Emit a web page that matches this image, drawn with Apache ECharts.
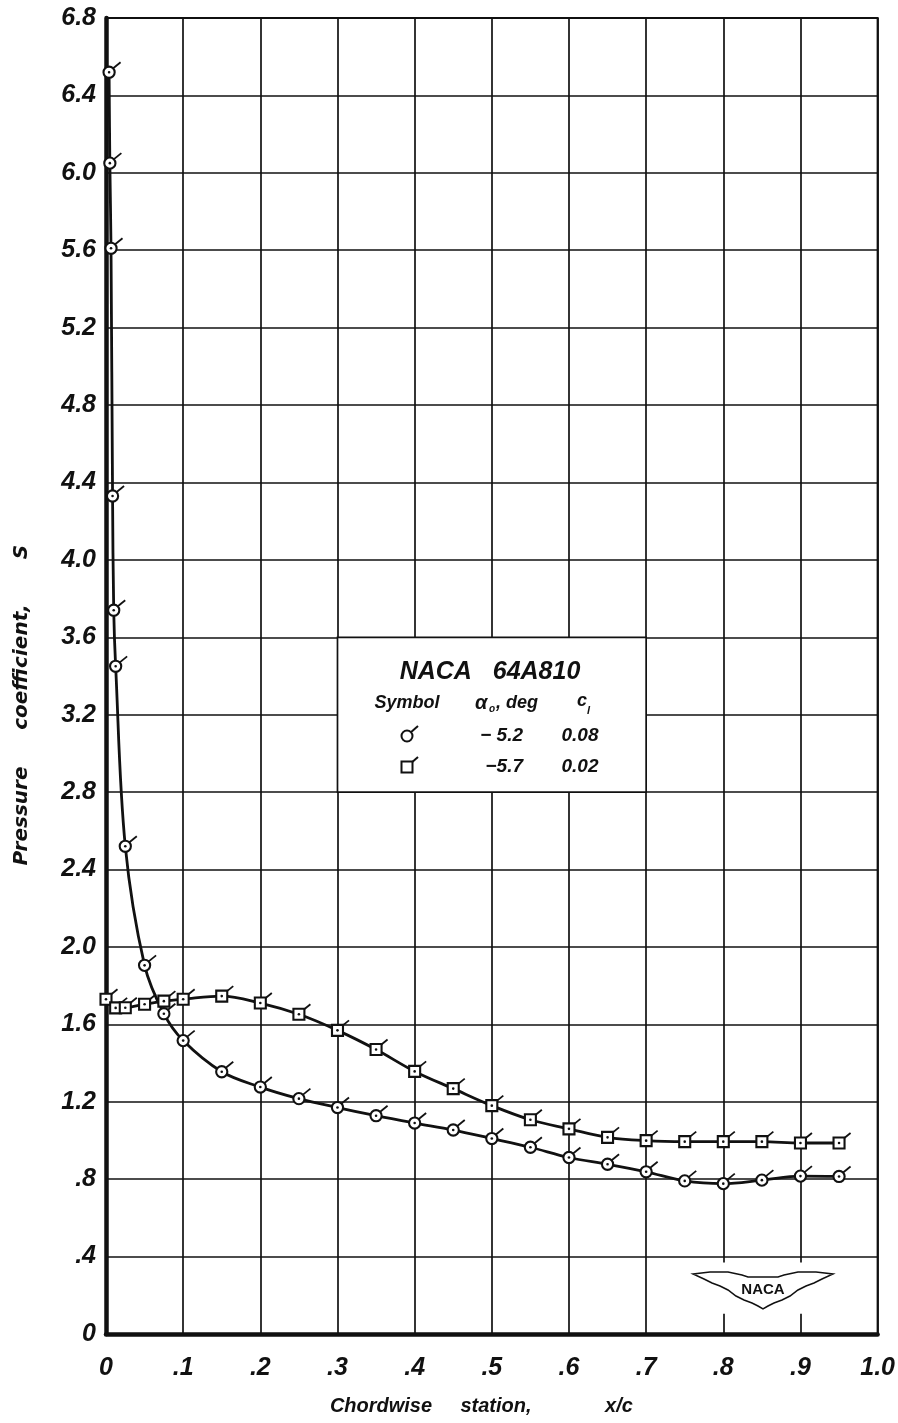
<!DOCTYPE html>
<html>
<head>
<meta charset="utf-8">
<script src="https://cdn.jsdelivr.net/npm/echarts@6/dist/echarts.min.js"></script>
<style>
  html, body { margin: 0; padding: 0; background: #fff; }
  #chart { width: 898px; height: 1423px; }
</style>
</head>
<body>
<div id="chart"></div>
<script>
// ---- data ----
const circleX = [0.004, 0.005, 0.0065, 0.0085, 0.0100, 0.0125, 0.025, 0.05, 0.075, 0.10,
  0.15, 0.20, 0.25, 0.30, 0.35, 0.40, 0.45, 0.50, 0.55, 0.60, 0.65, 0.70, 0.75, 0.80, 0.85, 0.90, 0.95];
const circleS = [6.52, 6.05, 5.61, 4.33, 3.74, 3.45, 2.52, 1.905, 1.655, 1.516,
  1.355, 1.276, 1.216, 1.17, 1.128, 1.09, 1.054, 1.01, 0.965, 0.912, 0.877, 0.838, 0.791, 0.777, 0.795, 0.816, 0.814];

const squareX = [0, 0.0125, 0.025, 0.05, 0.075, 0.10,
  0.15, 0.20, 0.25, 0.30, 0.35, 0.40, 0.45, 0.50, 0.55, 0.60, 0.65, 0.70, 0.75, 0.80, 0.85, 0.90, 0.95];
const squareS = [1.73, 1.685, 1.686, 1.704, 1.72, 1.73,
  1.746, 1.71, 1.652, 1.569, 1.47, 1.357, 1.268, 1.18, 1.107, 1.06, 1.016, 0.999, 0.994, 0.994, 0.994, 0.987, 0.987];

const xTickLabels = ['0', '.1', '.2', '.3', '.4', '.5', '.6', '.7', '.8', '.9', '1.0'];
const yTickLabels = ['0', '.4', '.8', '1.2', '1.6', '2.0', '2.4', '2.8', '3.2', '3.6', '4.0',
  '4.4', '4.8', '5.2', '5.6', '6.0', '6.4', '6.8'];

const xTitleWords = ['Chordwise', 'station,', 'x/c'];
const yTitleWords = ['Pressure', 'coefficient,', 'S'];

const legendTitle = 'NACA   64A810';
const legendRows = [
  { symbol: 'circle', alpha: '\u2212 5.2', cl: '0.08' },
  { symbol: 'square', alpha: '\u22125.7', cl: '0.02' }
];

// ---- chart ----
const INK = '#111';
const FONT = '"Liberation Sans", Arial, sans-serif';
const WIDE = '"DejaVu Sans", "Liberation Sans", sans-serif';
const chart = echarts.init(document.getElementById('chart'), null, { renderer: 'canvas' });

const circlePts = circleX.map((x, i) => [x, circleS[i]]);
const squarePts = squareX.map((x, i) => [x, squareS[i]]);

function markerItem(kind) {
  return function (params, api) {
    const p = api.coord([api.value(0), api.value(1)]);
    const children = [];
    children.push({
      type: 'line',
      shape: { x1: p[0] + 3.5, y1: p[1] - 3.5, x2: p[0] + 11.5, y2: p[1] - 10 },
      style: { stroke: INK, lineWidth: 1.8 }
    });
    if (kind === 'circle') {
      children.push({
        type: 'circle', shape: { cx: p[0], cy: p[1], r: 5.6 },
        style: { fill: '#fff', stroke: INK, lineWidth: 2.1 }
      });
    } else {
      children.push({
        type: 'rect', shape: { x: p[0] - 5.5, y: p[1] - 5.5, width: 11, height: 11 },
        style: { fill: '#fff', stroke: INK, lineWidth: 2.1 }
      });
    }
    children.push({
      type: 'circle', shape: { cx: p[0], cy: p[1], r: 1.3 },
      style: { fill: INK }
    });
    return { type: 'group', children: children };
  };
}

function legendGlyph(kind, cx, cy) {
  const shape = kind === 'circle'
    ? { type: 'circle', shape: { cx: cx, cy: cy, r: 5.5 }, style: { fill: '#fff', stroke: INK, lineWidth: 2 } }
    : { type: 'rect', shape: { x: cx - 5.5, y: cy - 5.5, width: 11, height: 11 }, style: { fill: '#fff', stroke: INK, lineWidth: 2 } };
  return [
    { type: 'line', shape: { x1: cx + 3, y1: cy - 3, x2: cx + 11, y2: cy - 10 }, style: { stroke: INK, lineWidth: 2 }, z: 100 },
    Object.assign(shape, { z: 101 })
  ];
}

const legendFont = 'italic bold 18px ' + FONT;
const graphics = [];
graphics.push({ type: 'text', x: 490, y: 672, z: 100,
  style: { text: legendTitle, font: 'italic bold 25px ' + FONT, fill: INK, align: 'center', verticalAlign: 'middle' } });
graphics.push({ type: 'text', x: 407, y: 703, z: 100,
  style: { text: 'Symbol', font: legendFont, fill: INK, align: 'center', verticalAlign: 'middle' } });
graphics.push({ type: 'text', x: 475, y: 703, z: 100,
  style: { text: '\u03b1', font: 'italic bold 20px ' + FONT, fill: INK, align: 'left', verticalAlign: 'middle' } });
graphics.push({ type: 'text', x: 489, y: 709, z: 100,
  style: { text: 'o', font: 'italic bold 10px ' + FONT, fill: INK, align: 'left', verticalAlign: 'middle' } });
graphics.push({ type: 'text', x: 496, y: 703, z: 100,
  style: { text: ', deg', font: legendFont, fill: INK, align: 'left', verticalAlign: 'middle' } });
graphics.push({ type: 'text', x: 577, y: 701, z: 100,
  style: { text: 'c', font: legendFont, fill: INK, align: 'left', verticalAlign: 'middle' } });
graphics.push({ type: 'text', x: 587, y: 711, z: 100,
  style: { text: 'l', font: 'italic bold 11px ' + FONT, fill: INK, align: 'left', verticalAlign: 'middle' } });
legendRows.forEach(function (row, i) {
  const cy = 736 + i * 31;
  legendGlyph(row.symbol, 407, cy).forEach(function (g) { graphics.push(g); });
  graphics.push({ type: 'text', x: 523, y: cy, z: 100,
    style: { text: row.alpha, font: 'italic bold 19px ' + FONT, fill: INK, align: 'right', verticalAlign: 'middle' } });
  graphics.push({ type: 'text', x: 580, y: cy, z: 100,
    style: { text: row.cl, font: 'italic bold 19px ' + FONT, fill: INK, align: 'center', verticalAlign: 'middle' } });
});
// axis titles (word positions)
const xTitleFont = 'italic bold 20px ' + FONT;
const xTitleCenters = [381, 496, 619];
xTitleWords.forEach(function (w, i) {
  graphics.push({ type: 'text', x: xTitleCenters[i], y: 1406, z: 100,
    style: { text: w, font: xTitleFont, fill: INK, align: 'center', verticalAlign: 'middle' } });
});
const yTitleFont = 'oblique bold 20px ' + WIDE;
const yTitleCenters = [816, 667, 552];
yTitleWords.forEach(function (w, i) {
  graphics.push({ type: 'text', x: 22, y: yTitleCenters[i], rotation: Math.PI / 2, z: 100,
    style: { text: w, font: yTitleFont, fill: INK, align: 'center', verticalAlign: 'middle' } });
});
// NACA wings logo
graphics.push({ type: 'polygon', z: 100,
  shape: { points: [[693,1274],[710,1272],[728,1272],[742,1275],[748,1277],[778,1277],[784,1275],[798,1272],[816,1272],[833,1274],
    [822,1279],[814,1283],[806,1286],[798,1290],[790,1296],[782,1300],[774,1303],[768,1306],[763,1309],
    [758,1306],[752,1303],[744,1300],[736,1296],[728,1290],[720,1286],[712,1283],[704,1279]] },
  style: { fill: '#fff', stroke: INK, lineWidth: 1.5 } });
graphics.push({ type: 'text', x: 763, y: 1290, z: 101,
  style: { text: 'NACA', font: 'bold 15px ' + FONT, fill: INK, align: 'center', verticalAlign: 'middle' } });

const option = {
  backgroundColor: '#fff',
  animation: false,
  grid: { left: 106, right: 18, top: 18, bottom: 89, show: true, borderColor: INK, borderWidth: 2, backgroundColor: 'transparent' },
  xAxis: {
    type: 'value', min: 0, max: 1, interval: 0.1,
    axisLine: { show: true, onZero: false, lineStyle: { color: INK, width: 4.5 } },
    axisTick: { show: false },
    splitLine: { show: true, lineStyle: { color: INK, width: 1.7 } },
    axisLabel: {
      margin: 22, color: INK, fontFamily: FONT, fontStyle: 'italic', fontWeight: 'bold', fontSize: 25,
      formatter: function (v) { return xTickLabels[Math.round(v * 10)]; }
    }
  },
  yAxis: {
    type: 'value', min: 0, max: 6.8, interval: 0.4,
    axisLine: { show: true, onZero: false, lineStyle: { color: INK, width: 4.5 } },
    axisTick: { show: false },
    splitLine: { show: true, lineStyle: { color: INK, width: 1.7 } },
    axisLabel: {
      margin: 10, color: INK, fontFamily: FONT, fontStyle: 'italic', fontWeight: 'bold', fontSize: 25,
      formatter: function (v) { return yTickLabels[Math.round(v / 0.4)]; }
    }
  },
  graphic: graphics,
  series: [
    {
      name: 'box', type: 'line', data: [], silent: true,
      markArea: {
        silent: true,
        data: [
          [{ coord: [0.3, 3.6], itemStyle: { color: '#fff', borderColor: INK, borderWidth: 1.7 } }, { coord: [0.7, 2.8] }],
          [{ coord: [0.758, 0.37], itemStyle: { color: '#fff', borderWidth: 0 } }, { coord: [0.942, 0.105] }]
        ]
      }
    },
    {
      name: 'circle-line', type: 'line', data: circlePts, showSymbol: false, symbol: 'none',
      smooth: 0.35, lineStyle: { color: INK, width: 2.8 }, z: 3
    },
    {
      name: 'square-line', type: 'line', data: squarePts, showSymbol: false, symbol: 'none',
      smooth: 0.35, lineStyle: { color: INK, width: 2.8 }, z: 3
    },
    {
      name: 'circle-markers', type: 'custom', data: circlePts, renderItem: markerItem('circle'),
      encode: { x: 0, y: 1 }, z: 5, clip: false
    },
    {
      name: 'square-markers', type: 'custom', data: squarePts, renderItem: markerItem('square'),
      encode: { x: 0, y: 1 }, z: 5, clip: false
    }
  ]
};
chart.setOption(option);
</script>
</body>
</html>
